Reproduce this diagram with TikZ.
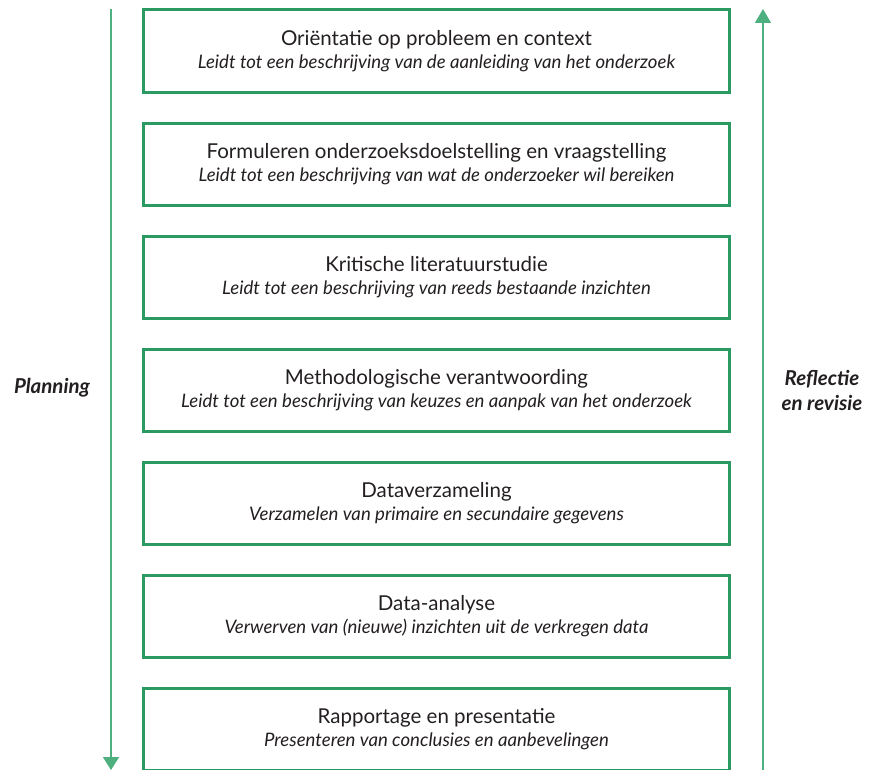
\documentclass[tikz,border=0pt]{standalone}
\usepackage{fontspec}
\setmainfont{Lato}
\usepackage{xcolor}
\usetikzlibrary{arrows.meta}
\definecolor{stepgreen}{HTML}{2A9A62}
\definecolor{flowgreen}{HTML}{4DB07E}
\definecolor{inktext}{HTML}{231F20}
\newcommand{\phasesub}[1]{{\fontsize{18.6bp}{23bp}\selectfont\itshape #1}}

\begin{document}
\begin{tikzpicture}[x=1bp, y=-1bp,
    phase/.style={rectangle, draw=stepgreen, line width=3bp, minimum width=585bp,
        minimum height=82bp, align=center, text=inktext,
        font=\fontsize{20.5bp}{23bp}\selectfont},
    sidelabel/.style={align=center, text=inktext, font=\fontsize{20.5bp}{25bp}\selectfont\bfseries\itshape}]
            \useasboundingbox (0,0) rectangle (877,770);

            \node[phase] at (436.5, 51)  (p1) {Oriëntatie op probleem en context\\\phasesub{Leidt tot een beschrijving van de aanleiding van het onderzoek}};
            \node[phase] at (436.5, 164) (p2) {Formuleren onderzoeksdoelstelling en vraagstelling\\\phasesub{Leidt tot een beschrijving van wat de onderzoeker wil bereiken}};
            \node[phase] at (436.5, 277) (p3) {Kritische literatuurstudie\\\phasesub{Leidt tot een beschrijving van reeds bestaande inzichten}};
            \node[phase] at (436.5, 390) (p4) {Methodologische verantwoording\\\phasesub{Leidt tot een beschrijving van keuzes en aanpak van het onderzoek}};
            \node[phase] at (436.5, 503) (p5) {Dataverzameling\\\phasesub{Verzamelen van primaire en secundaire gegevens}};
            \node[phase] at (436.5, 616) (p6) {Data-analyse\\\phasesub{Verwerven van (nieuwe) inzichten uit de verkregen data}};
            \node[phase] at (436.5, 729) (p7) {Rapportage en presentatie\\\phasesub{Presenteren van conclusies en aanbevelingen}};

            \coordinate (plantop) at (111, 9);
            \coordinate (planend) at (111, 770);
            \coordinate (revbase) at (763, 770);
            \coordinate (revtop)  at (763, 9);

            \draw [-{Triangle[length=13bp, width=16bp]}, flowgreen, line width=1.6bp] (plantop) -- (planend);
            \draw [-{Triangle[length=14bp, width=16bp]}, flowgreen, line width=1.6bp] (revbase) -- (revtop);

            \node[sidelabel] at (52, 388)  (plan) {Planning};
            \node[sidelabel] at (822, 390) (rev)  {Reflectie\\en revisie};
        \end{tikzpicture}
\end{document}
